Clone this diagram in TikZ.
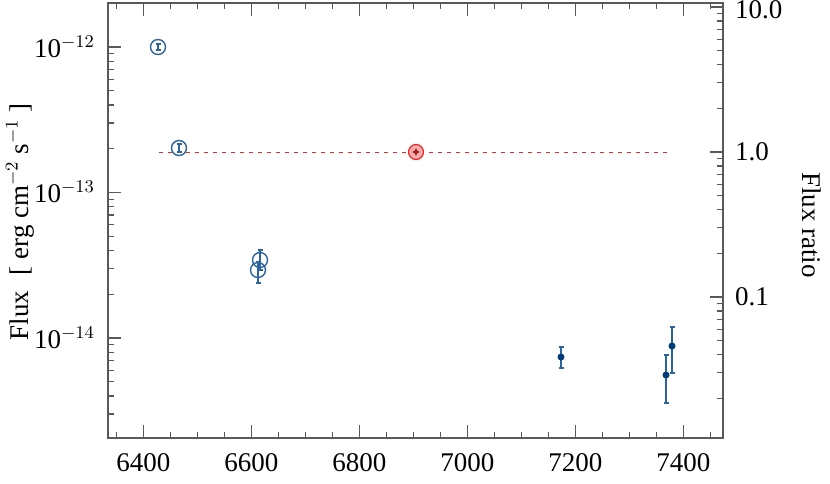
\documentclass[tikz,border=0pt]{standalone}
\usepackage{fontspec}
\setmainfont{Liberation Serif}
\definecolor{ptblue}{RGB}{45,100,155}
\definecolor{dotblue}{RGB}{0,60,120}
\definecolor{refred}{RGB}{235,40,40}
\tikzset{errbar/.style={ptblue, line width=0.6pt}}
\newcommand{\errb}[4]{% x, y, ylow, yhigh
  \draw[errbar] (#1,#3) -- (#1,#4);
  \draw[errbar] (#1-2.5,#3) -- (#1+2.5,#3);
  \draw[errbar] (#1-2.5,#4) -- (#1+2.5,#4);}
\begin{document}
\begin{tikzpicture}[x=0.5pt, y=-0.5pt, font=\fontsize{13.5}{16}\selectfont]
    \useasboundingbox (0,0) rectangle (830,483);

                    % frame
                    \draw[gray!70!black, line width=0.7pt] (108,3) rectangle (723,438);
                    % x ticks, every 50
                    \foreach \l in {6350,6400,...,7450} {
                        \pgfmathsetmacro{\xx}{143.3+0.54*(\l-6400)}
                        \pgfmathparse{mod(\l,200)==0 ? 13 : 6}
                        \let\tl\pgfmathresult
                        \draw[gray!70!black, line width=0.6pt] (\xx,438) -- ++(0,-\tl);
                        \draw[gray!70!black, line width=0.6pt] (\xx,3) -- ++(0,\tl);
                    }
                    \foreach \l in {6400,6600,...,7400}
                        \node at ({143.3+0.54*(\l-6400)},463) {\l};
                    % left log ticks
                    \foreach \d in {-15,-14,-13,-12} {
                        \foreach \m in {1,...,9} {
                            \pgfmathsetmacro{\yy}{47-145.5*(ln(\m)/ln(10)+\d+12)}
                            \pgfmathparse{(\yy>4 && \yy<437) ? 1 : 0}
                            \ifnum\pgfmathresult=1
                                \pgfmathparse{\m==1 ? 13 : 6}\let\tl\pgfmathresult
                                \draw[gray!70!black, line width=0.6pt] (108,\yy) -- ++(\tl,0);
                            \fi
                        }
                    }
                    \node[anchor=east] at (102,47) {10$^{-12}$};
                    \node[anchor=east] at (102,192) {10$^{-13}$};
                    \node[anchor=east] at (102,338) {10$^{-14}$};
                    % right log ticks (flux ratio)
                    \foreach \d in {-2,-1,0,1} {
                        \foreach \m in {1,...,9} {
                            \pgfmathsetmacro{\yy}{152-145*(ln(\m)/ln(10)+\d)}
                            \pgfmathparse{(\yy>4 && \yy<437) ? 1 : 0}
                            \ifnum\pgfmathresult=1
                                \pgfmathparse{\m==1 ? 13 : 6}\let\tl\pgfmathresult
                                \draw[gray!70!black, line width=0.6pt] (723,\yy) -- ++(-\tl,0);
                            \fi
                        }
                    }
                    \node[anchor=west] at (728,10) {10.0};
                    \node[anchor=west] at (728,152) {1.0};
                    \node[anchor=west] at (728,297) {0.1};
                    % axis titles
                    \node[rotate=90] at (20,222) {Flux\,\, [ erg cm$^{-2}$ s$^{-1}$ ]};
                    \node[rotate=-90] at (812,225) {Flux ratio};

                    % reference level
                    \draw[refred, dash pattern=on 2pt off 2.5pt, line width=0.5pt] (159,152) -- (668,152);
                    \draw[refred, fill=refred!40, line width=0.6pt] (416,152) circle (7.5);
                    \draw[refred!70!black, line width=0.6pt] (413,152) -- (419,152) (416,149) -- (416,155);

                    % open circles
                    \draw[ptblue, line width=0.7pt] (158,47) circle (7.5);
                    \errb{158}{47}{44}{50}
                    \draw[ptblue, line width=0.7pt] (179,148) circle (7.5);
                    \errb{179}{148}{144}{152}
                    \draw[ptblue, line width=0.7pt] (260,260) circle (7.5);
                    \draw[ptblue, line width=0.7pt] (258,270) circle (7.5);
                    \errb{260}{260}{250}{270}
                    \errb{258}{270}{262}{283}

                    % filled dots
                    \errb{561}{357}{347}{368}
                    \fill[dotblue] (561,357) circle (3.5);
                    \errb{666}{375}{355}{403}
                    \fill[dotblue] (666,375) circle (3.5);
                    \errb{672}{346}{327}{373}
                    \fill[dotblue] (672,346) circle (3.5);

\end{tikzpicture}
\end{document}
